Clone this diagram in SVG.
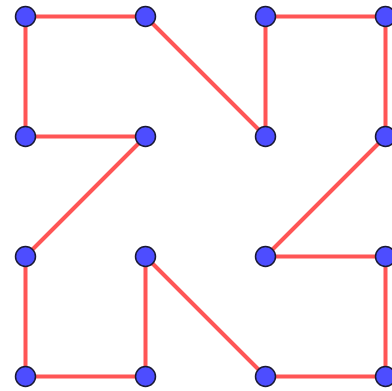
<svg xmlns="http://www.w3.org/2000/svg" width="392" height="391" viewBox="0 0 392 391">
<style>
.e{stroke:#ff5555;stroke-width:4;fill:none;stroke-linecap:round;stroke-linejoin:round}
.n{fill:#4d4dff;stroke:#1a1a33;stroke-width:1.5}
</style>
<rect width="392" height="391" fill="#ffffff"/>
<g id="connectors">
<polyline class="e" points="25.5,16.5 145.5,16.5 265.5,136.5 265.5,16.5 385.5,16.5 385.5,136.5 265.5,256.5 385.5,256.5 385.5,376.5 265.5,376.5 145.5,256.5 145.5,376.5 25.5,376.5 25.5,256.5 145.5,136.5 25.5,136.5 25.5,16.5"/>
</g>
<g id="n00"><circle class="n" cx="25.5" cy="16.5" r="10"/></g>
<g id="n10"><circle class="n" cx="145.5" cy="16.5" r="10"/></g>
<g id="n20"><circle class="n" cx="265.5" cy="16.5" r="10"/></g>
<g id="n30"><circle class="n" cx="385.5" cy="16.5" r="10"/></g>
<g id="n01"><circle class="n" cx="25.5" cy="136.5" r="10"/></g>
<g id="n11"><circle class="n" cx="145.5" cy="136.5" r="10"/></g>
<g id="n21"><circle class="n" cx="265.5" cy="136.5" r="10"/></g>
<g id="n31"><circle class="n" cx="385.5" cy="136.5" r="10"/></g>
<g id="n02"><circle class="n" cx="25.5" cy="256.5" r="10"/></g>
<g id="n12"><circle class="n" cx="145.5" cy="256.5" r="10"/></g>
<g id="n22"><circle class="n" cx="265.5" cy="256.5" r="10"/></g>
<g id="n32"><circle class="n" cx="385.5" cy="256.5" r="10"/></g>
<g id="n03"><circle class="n" cx="25.5" cy="376.5" r="10"/></g>
<g id="n13"><circle class="n" cx="145.5" cy="376.5" r="10"/></g>
<g id="n23"><circle class="n" cx="265.5" cy="376.5" r="10"/></g>
<g id="n33"><circle class="n" cx="385.5" cy="376.5" r="10"/></g>
</svg>
